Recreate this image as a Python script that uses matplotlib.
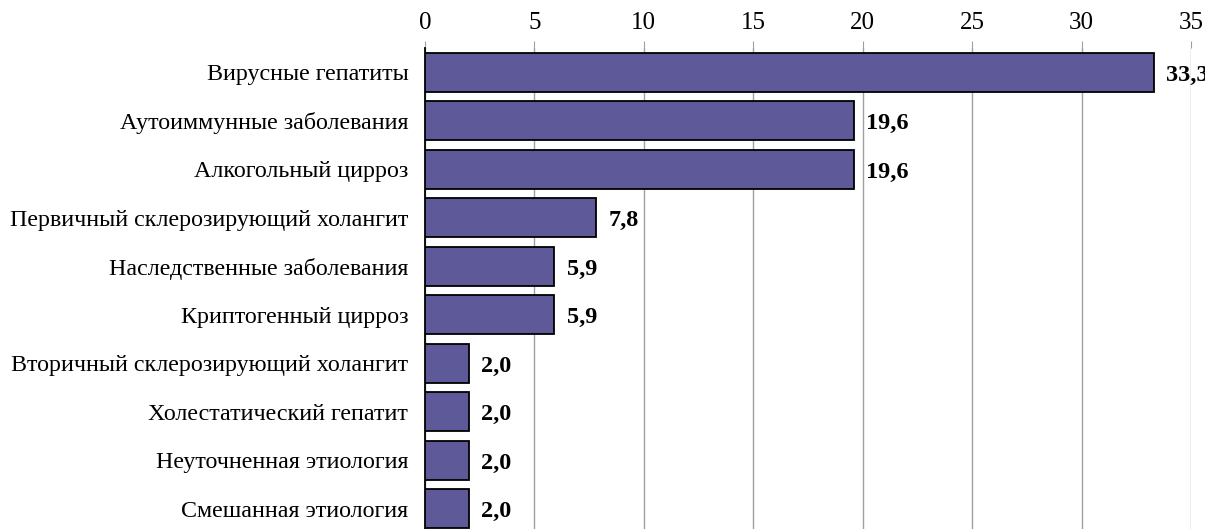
import matplotlib
matplotlib.use("Agg")
import matplotlib.pyplot as plt

categories = [
    "Вирусные гепатиты",
    "Аутоиммунные заболевания",
    "Алкогольный цирроз",
    "Первичный склерозирующий холангит",
    "Наследственные заболевания",
    "Криптогенный цирроз",
    "Вторичный склерозирующий холангит",
    "Холестатический гепатит",
    "Неуточненная этиология",
    "Смешанная этиология",
]
values = [33.3, 19.6, 19.6, 7.8, 5.9, 5.9, 2.0, 2.0, 2.0, 2.0]
x_ticks = [0, 5, 10, 15, 20, 25, 30, 35]

plt.rcParams['font.family'] = ['Liberation Serif', 'DejaVu Serif']

fig = plt.figure(figsize=(12.05, 5.29), dpi=100)
ax = fig.add_axes([425/1205, -4/529, (1191-425)/1205, (529+4-48)/529])

y = list(range(len(categories)))
ax.barh(y, values, height=0.81, color="#5E5A9A", edgecolor="black", linewidth=1.3, zorder=3)

for yi, v in zip(y, values):
    ax.annotate(f"{v:.1f}".replace(".", ","), xy=(v, yi), xytext=(9, -2),
                textcoords="offset points", va="center", ha="left",
                fontsize=17.5, fontweight="bold", zorder=4)

ax.set_xlim(0, 35)
ax.set_ylim(len(categories) - 0.5, -0.5)
ax.set_xticks(x_ticks)
ax.set_xticklabels([str(t) for t in x_ticks])
ax.xaxis.tick_top()
ax.tick_params(axis="x", labelsize=18, length=5, color="#A0A0A0", pad=5)
ax.set_yticks(y)
ax.set_yticklabels(categories)
ax.tick_params(axis="y", labelsize=17.3, length=0, pad=12)

ax.grid(axis="x", color="#A0A0A0", linewidth=1.0, zorder=0)
for s in ["top", "right", "bottom"]:
    ax.spines[s].set_visible(False)
ax.spines["left"].set_color("black")
ax.spines["left"].set_linewidth(1.3)

fig.savefig("out.png", dpi=100)
